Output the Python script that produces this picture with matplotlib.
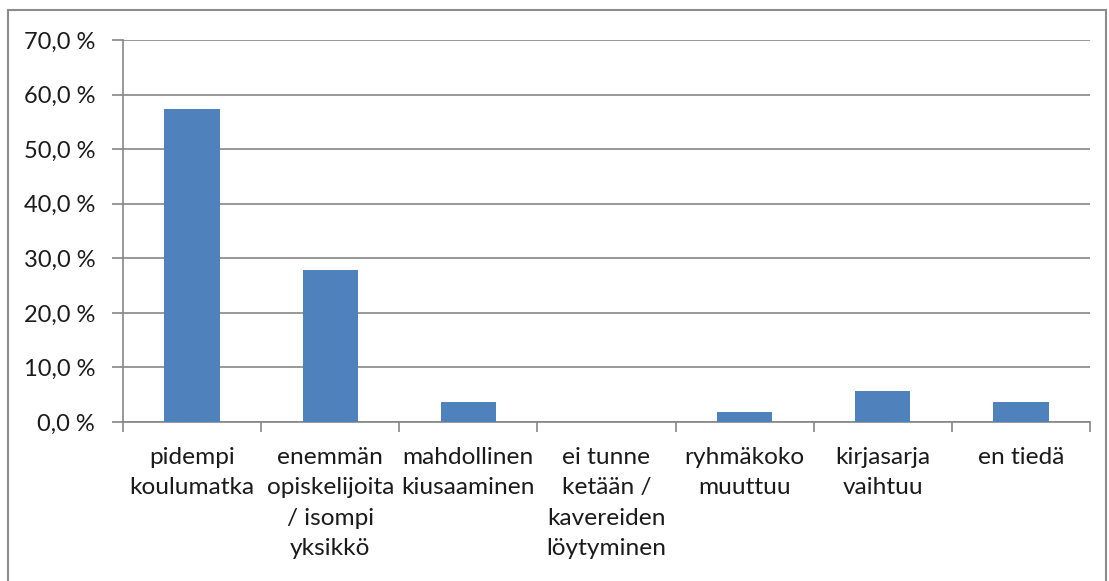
import matplotlib.pyplot as plt
from matplotlib.patches import Rectangle
from matplotlib.ticker import FuncFormatter, FixedLocator

# data
labels = [
    'pidempi\nkoulumatka',
    'enemmän\nopiskelijoita\n/ isompi\nyksikkö',
    'mahdollinen\nkiusaaminen',
    'ei tunne\nketään /\nkavereiden\nlöytyminen',
    'ryhmäkoko\nmuuttuu',
    'kirjasarja\nvaihtuu',
    'en tiedä',
]
values = [57.4, 27.8, 3.7, 0.0, 1.9, 5.6, 3.7]
yticks = [0, 10, 20, 30, 40, 50, 60, 70]

plt.rcParams['font.family'] = ['Lato', 'DejaVu Sans']
plt.rcParams['font.size'] = 17

fig = plt.figure(figsize=(11.09, 5.81), dpi=100)
ax = fig.add_axes([123/1109, 1 - 422/581, (1090 - 123)/1109, (422 - 40)/581])

# outer chart border
fig.patches.append(Rectangle((8/1109, -0.05), (1106 - 8)/1109, 1.05 - 10/581,
                             transform=fig.transFigure, fill=False,
                             edgecolor='#8c8c8c', linewidth=1.5))

x = list(range(len(values)))
ax.bar(x, values, width=0.4, color='#4f81bd', zorder=3)

ax.set_xlim(-0.5, len(values) - 0.5)
ax.set_ylim(0, 70)
ax.set_yticks(yticks)
ax.set_yticklabels([f'{v:.1f} %'.replace('.', ',') for v in yticks], fontsize=17,
                   color='#1a1a1a')
ax.grid(True, axis='y', color='#868686', linewidth=1.2, zorder=0)

# category boundaries as major ticks, labels on minor ticks at bar centres
ax.xaxis.set_major_locator(FixedLocator([i - 0.5 for i in range(len(values) + 1)]))
ax.xaxis.set_ticklabels([])
ax.xaxis.set_minor_locator(FixedLocator(x))
ax.xaxis.set_minor_formatter(FuncFormatter(lambda v, p: labels[int(round(v))]))
ax.tick_params(axis='x', which='minor', length=0, pad=18, labelsize=17.6,
               labelcolor='#1a1a1a')
ax.tick_params(axis='x', which='major', length=7, color='#868686', width=1.2)
ax.tick_params(axis='y', length=8, color='#868686', width=1.2, pad=12)
for t in ax.xaxis.get_minorticklabels():
    t.set_linespacing(1.55)

for s in ['top', 'right']:
    ax.spines[s].set_visible(False)
for s in ['left', 'bottom']:
    ax.spines[s].set_color('#868686')
    ax.spines[s].set_linewidth(1.2)

fig.savefig('out.png', dpi=100)
